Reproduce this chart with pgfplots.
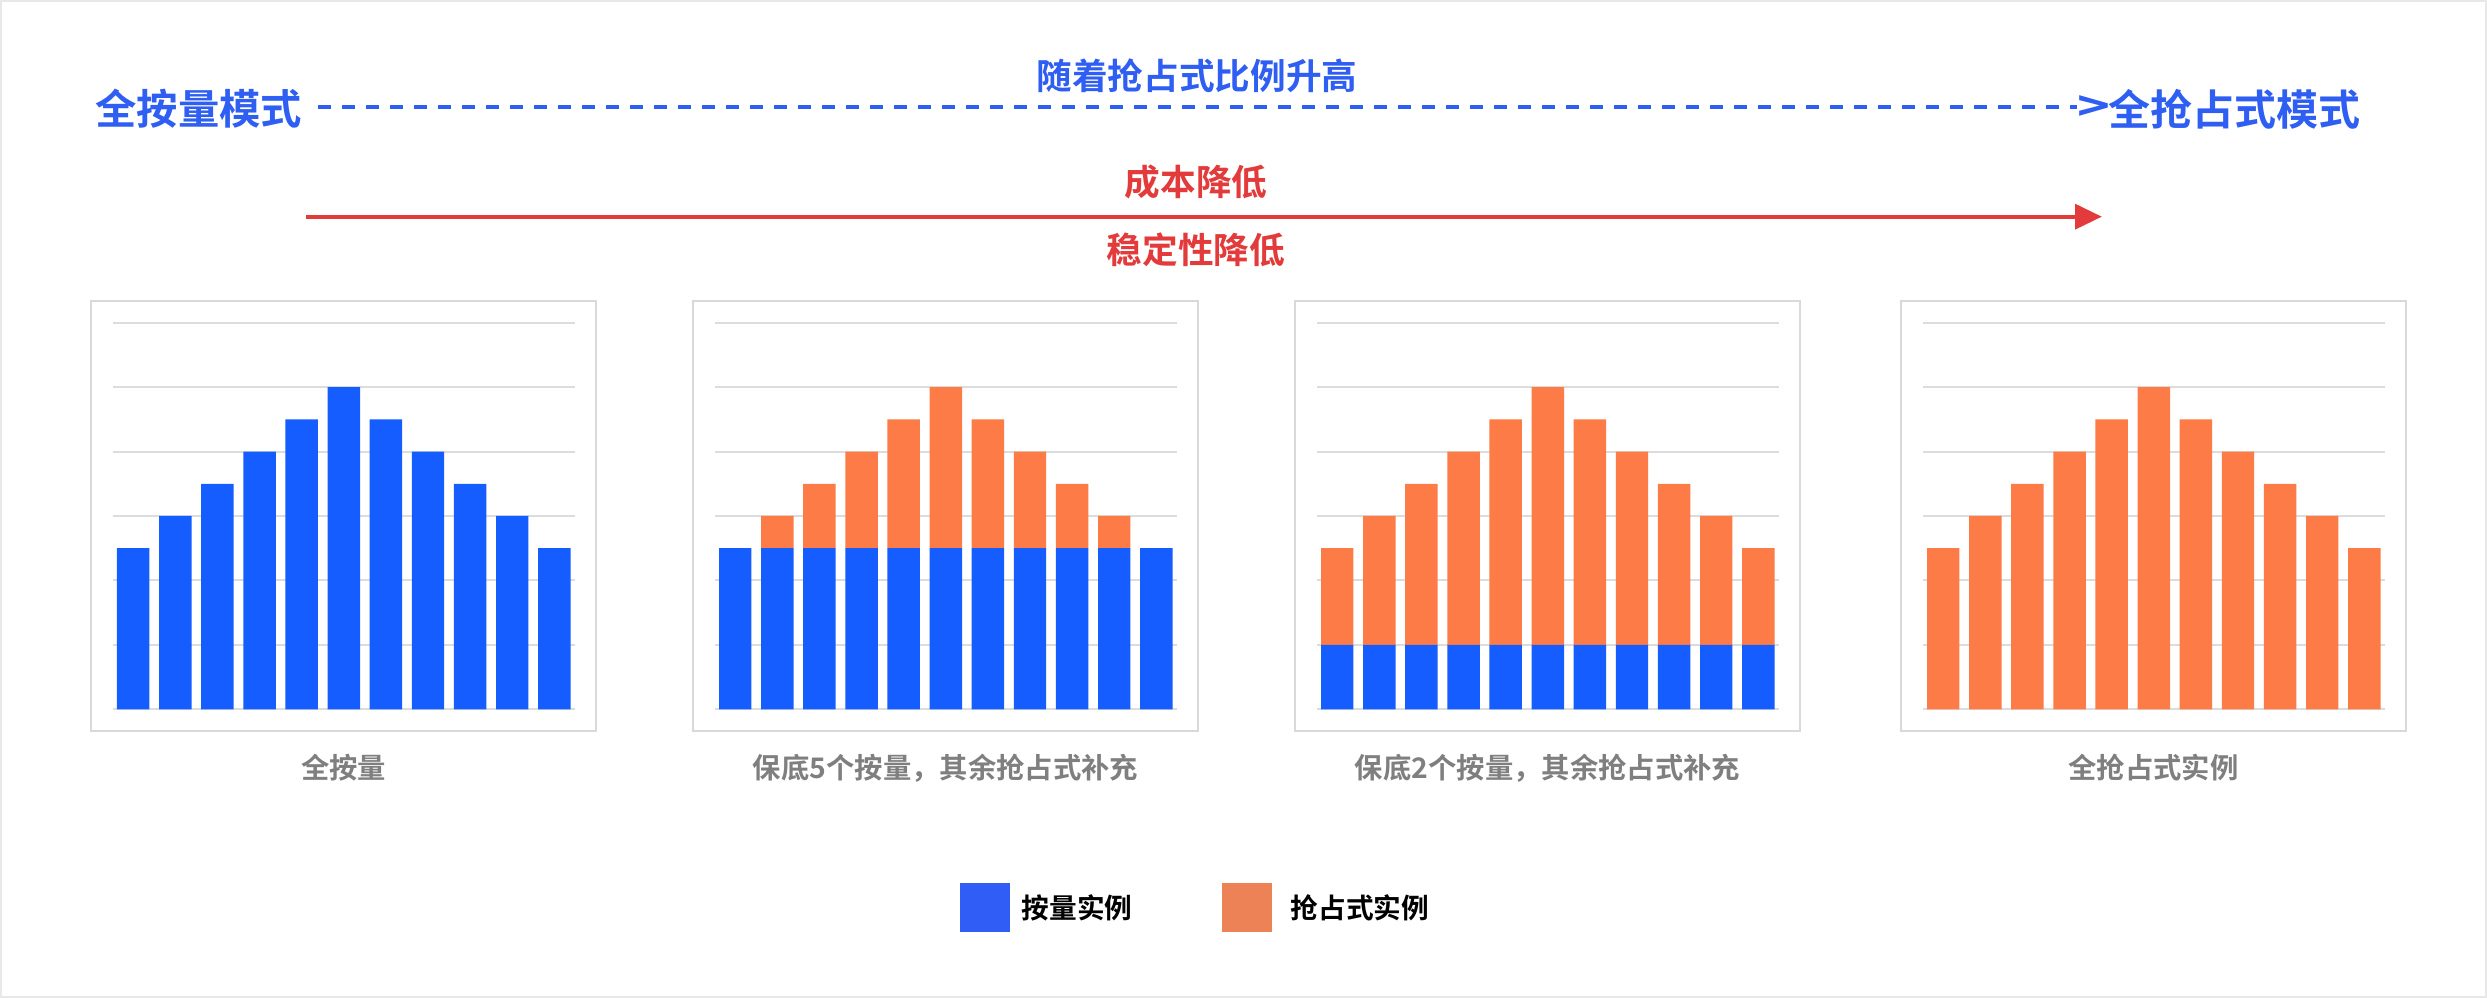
\documentclass[border=0pt]{standalone}
\usepackage{pgfplots}
\pgfplotsset{compat=1.18}
\usepackage{fontspec}
\setmainfont{Noto Sans CJK SC}
\newfontfamily\cjkbold{Noto Sans CJK SC Bold}
\newfontfamily\cjkmed{Noto Sans CJK SC Medium}
\definecolor{barblue}{HTML}{165DFF}
\definecolor{barorange}{HTML}{FD7B46}
\definecolor{titleblue}{HTML}{2F5EF2}
\definecolor{titlered}{HTML}{E33B3B}
\definecolor{legblue}{HTML}{2F5DF5}
\definecolor{legorange}{HTML}{EC8256}
\definecolor{capgray}{HTML}{7F7F7F}
\definecolor{gridgray}{HTML}{DCDCDC}
\definecolor{framegray}{HTML}{D9D9D9}
\definecolor{bordergray}{HTML}{E8E8E8}

\pgfplotsset{
  panel/.style={
    scale only axis, width=138.6pt, height=115.98pt, anchor=south west,
    xmin=-0.48, xmax=10.49, ymin=0, ymax=12,
    axis line style={draw=none},
    xtick=\empty, ytick={0,2,...,12}, yticklabels={},
    major tick length=0pt,
    ymajorgrids, grid style={draw=gridgray, line width=0.6pt},
    bar width=0.77,
  },
}

\begin{document}
\begin{tikzpicture}[x=0.3pt, y=0.3pt]
% background and outer border
\fill[white] (0,0) rectangle (2487,998);
\draw[bordergray, line width=0.6pt] (1,1) rectangle (2486,997);

% top texts and arrows
\node[anchor=west, inner sep=0pt, text=titleblue, font=\cjkbold\fontsize{12.4pt}{14pt}\selectfont] at (95,889) {全按量模式};
\draw[titleblue, line width=1.2pt, dash pattern=on 4pt off 3.2pt] (318,891) -- (2077,891);
\node[anchor=west, inner sep=0pt, text=titleblue, font=\cjkbold\fontsize{12.4pt}{14pt}\selectfont, xscale=1.35] at (2077,889) {>};
\node[anchor=west, inner sep=0pt, text=titleblue, font=\cjkbold\fontsize{12.6pt}{14pt}\selectfont] at (2108,889) {全抢占式模式};
\node[inner sep=0pt, text=titleblue, font=\cjkbold\fontsize{10.7pt}{12pt}\selectfont] at (1197,922) {随着抢占式比例升高};

\node[inner sep=0pt, text=titlered, font=\cjkbold\fontsize{10.7pt}{12pt}\selectfont] at (1196,816) {成本降低};
\draw[titlered, line width=1.3pt] (306,781.3) -- (2078,781.3);
\fill[titlered] (2075,794.3) -- (2101.7,781.3) -- (2075,768.3) -- cycle;
\node[inner sep=0pt, text=titlered, font=\cjkbold\fontsize{10.7pt}{12pt}\selectfont] at (1196,748) {稳定性降低};

% panel frames
\foreach \fx in {91,693,1295,1901} {
  \draw[framegray, line width=0.6pt] (\fx,267) rectangle ++(505,430);
}

% Panel 1: all on-demand
\begin{axis}[panel, at={(33.9pt,86.61pt)}]
\addplot[ybar, fill=barblue, draw=none] coordinates {(0,5)(1,6)(2,7)(3,8)(4,9)(5,10)(6,9)(7,8)(8,7)(9,6)(10,5)};
\end{axis}

% Panel 2: 5 on-demand base
\begin{axis}[panel, ybar stacked, at={(214.5pt,86.61pt)}]
\addplot[fill=barblue, draw=none] coordinates {(0,5)(1,5)(2,5)(3,5)(4,5)(5,5)(6,5)(7,5)(8,5)(9,5)(10,5)};
\addplot[fill=barorange, draw=none] coordinates {(0,0)(1,1)(2,2)(3,3)(4,4)(5,5)(6,4)(7,3)(8,2)(9,1)(10,0)};
\end{axis}

% Panel 3: 2 on-demand base
\begin{axis}[panel, ybar stacked, at={(395.1pt,86.61pt)}]
\addplot[fill=barblue, draw=none] coordinates {(0,2)(1,2)(2,2)(3,2)(4,2)(5,2)(6,2)(7,2)(8,2)(9,2)(10,2)};
\addplot[fill=barorange, draw=none] coordinates {(0,3)(1,4)(2,5)(3,6)(4,7)(5,8)(6,7)(7,6)(8,5)(9,4)(10,3)};
\end{axis}

% Panel 4: all spot
\begin{axis}[panel, at={(576.9pt,86.61pt)}]
\addplot[ybar, fill=barorange, draw=none] coordinates {(0,5)(1,6)(2,7)(3,8)(4,9)(5,10)(6,9)(7,8)(8,7)(9,6)(10,5)};
\end{axis}

% captions
\foreach \cx/\txt in {343.5/全按量, 945.5/{保底5个按量，其余抢占式补充}, 1547.5/{保底2个按量，其余抢占式补充}, 2153.5/全抢占式实例} {
  \node[inner sep=0pt, text=capgray, font=\cjkbold\fontsize{8.5pt}{10pt}\selectfont] at (\cx,230) {\txt};
}

% legend
\fill[legblue] (960,65.7) rectangle (1010.3,115.3);
\node[anchor=west, inner sep=0pt, font=\cjkbold\fontsize{8.3pt}{10pt}\selectfont] at (1021,89.7) {按量实例};
\fill[legorange] (1221.5,65.7) rectangle (1272,115.3);
\node[anchor=west, inner sep=0pt, font=\cjkbold\fontsize{8.3pt}{10pt}\selectfont] at (1290,89.7) {抢占式实例};
\end{tikzpicture}
\end{document}
